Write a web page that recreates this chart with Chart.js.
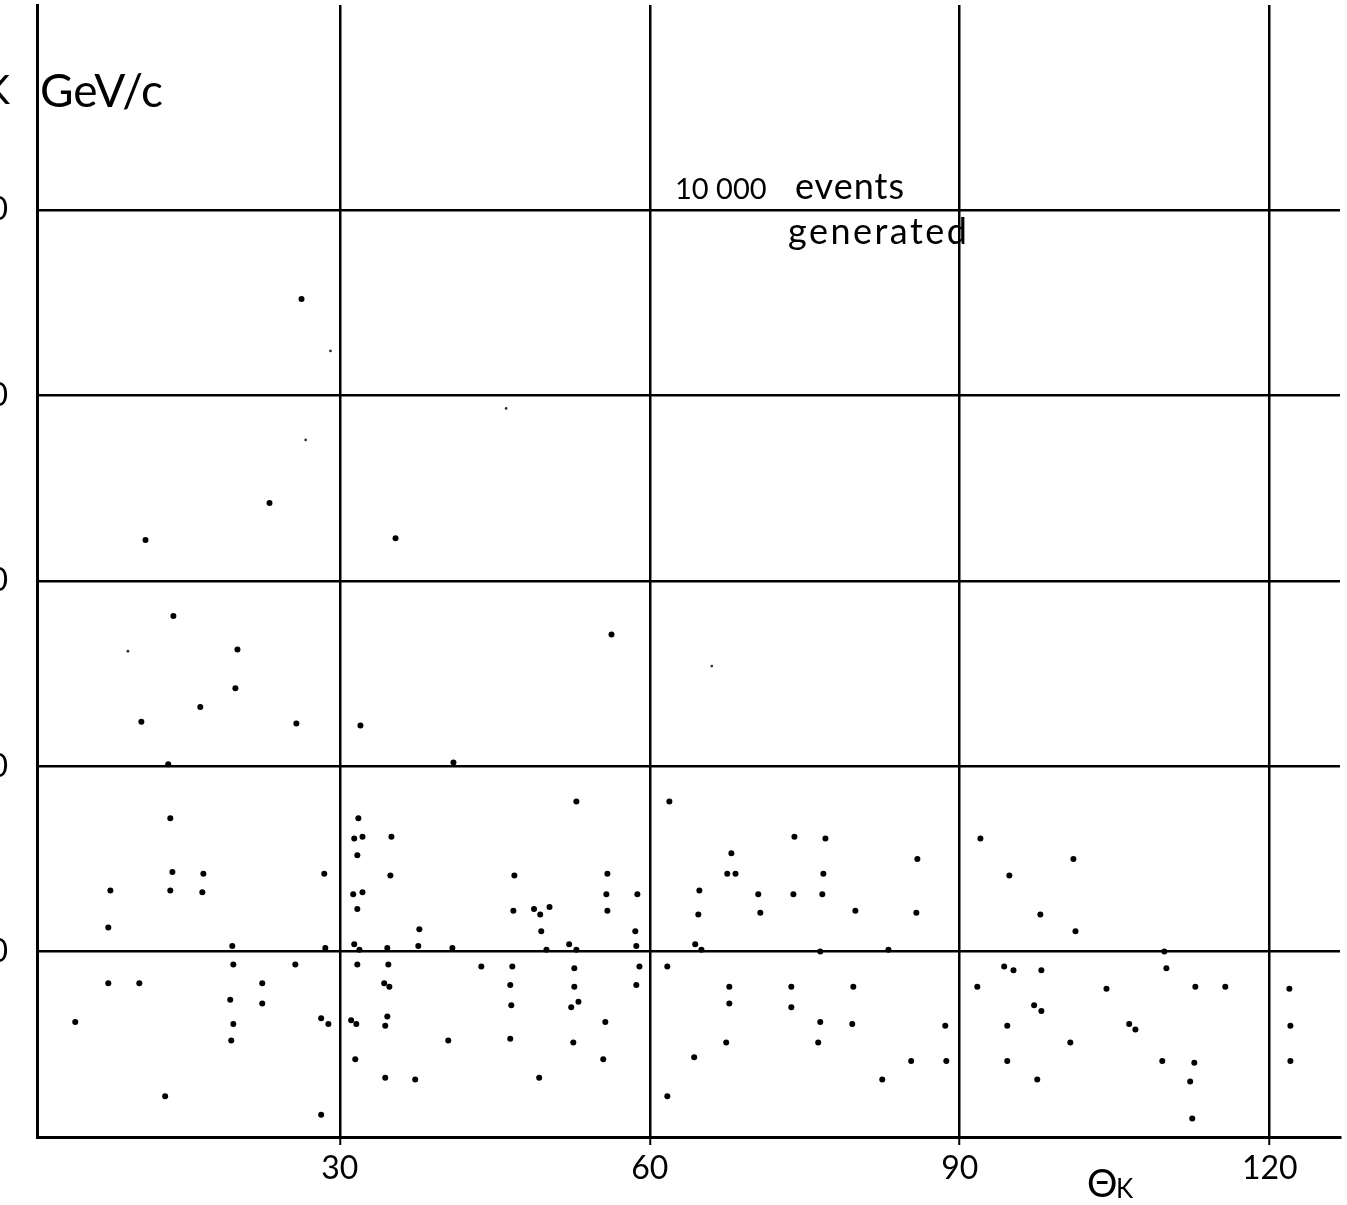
<!DOCTYPE html>
<html lang="en">
<head>
  <meta charset="UTF-8" />
  <title>Theta K vs pK scatter</title>
  <script src="https://cdn.jsdelivr.net/npm/chart.js"></script>
  <style>
    body { margin: 0; background: #fff; }
    #wrap { width: 1347px; height: 1205px; }
  </style>
</head>
<body>
  <div id="wrap"><canvas id="scatter"></canvas></div>

  <script>
    // kaon angle (degrees) and momentum (GeV/c)
    const thetaK = [
      23.2, 11.2, 35.4, 13.9, 20.1, 19.9, 16.5, 10.8, 25.8, 32.0, 13.4, 41.0, 26.3, 56.3,
      13.6, 31.8, 31.4, 32.2, 35.0, 31.7, 13.8, 16.8, 28.5, 34.9, 7.8, 13.6, 16.7, 31.3,
      32.2, 31.7, 7.6, 37.7, 19.6, 28.6, 31.4, 31.9, 34.6, 37.6, 40.9,
      19.7, 25.7, 31.7, 34.7, 7.6, 10.6, 22.5, 34.3, 34.8, 19.4, 22.5, 4.4, 19.7, 28.2,
      28.9, 31.1, 31.6, 34.6, 34.4, 19.5, 40.5, 31.5, 34.4, 37.3, 13.1, 28.2,
      52.9, 61.9, 74.0, 77.0, 67.9, 85.9, 46.9, 55.9, 67.5, 68.3, 76.8, 64.8, 55.8, 58.8,
      70.5, 73.9, 76.7, 46.8, 48.8, 49.4, 50.3, 55.9, 64.7, 70.7, 79.9, 85.8, 49.5, 58.6,
      52.2, 52.9, 50.0, 58.7, 64.4, 65.0, 76.5, 83.1,
      43.7, 46.7, 52.7, 59.0, 61.7, 46.5, 52.7, 58.7, 67.7, 73.7, 79.7, 46.6, 52.4, 53.1,
      67.7, 73.7, 55.7, 76.5, 79.6, 46.5, 52.6, 67.4, 76.3, 55.5, 64.3, 85.3, 49.3, 82.5, 61.7,
      92.0, 101.0, 94.8, 97.8, 101.2, 109.8,
      94.3, 95.2, 97.9, 110.0, 91.7, 104.2, 112.8, 115.7, 121.9, 97.2, 97.9, 88.6, 94.6,
      106.4, 107.0, 122.0, 100.7, 88.7, 94.6, 109.6, 112.7, 122.0, 97.5, 112.3, 112.5
    ];
    const pK = [
      3.42, 3.22, 3.23, 2.81, 2.63, 2.42, 2.32, 2.24, 2.23, 2.22, 2.01, 2.02, 4.52, 2.71,
      1.72, 1.72, 1.61, 1.62, 1.62, 1.52, 1.43, 1.42, 1.42, 1.41, 1.33, 1.33, 1.32, 1.31,
      1.32, 1.23, 1.13, 1.12, 1.03, 1.02, 1.04, 1.01, 1.02, 1.03, 1.02,
      0.93, 0.93, 0.93, 0.93, 0.83, 0.83, 0.83, 0.83, 0.81, 0.74, 0.72, 0.62, 0.61, 0.64,
      0.61, 0.63, 0.61, 0.65, 0.60, 0.52, 0.52, 0.42, 0.32, 0.31, 0.22, 0.12,
      1.81, 1.81, 1.62, 1.61, 1.53, 1.50, 1.41, 1.42, 1.42, 1.42, 1.42, 1.33, 1.31, 1.31,
      1.31, 1.31, 1.31, 1.22, 1.23, 1.20, 1.24, 1.22, 1.20, 1.21, 1.22, 1.21, 1.11, 1.11,
      1.04, 1.01, 1.01, 1.03, 1.04, 1.01, 1.00, 1.01,
      0.92, 0.92, 0.91, 0.92, 0.92, 0.82, 0.81, 0.82, 0.81, 0.81, 0.81, 0.71, 0.70, 0.73,
      0.72, 0.70, 0.62, 0.62, 0.61, 0.53, 0.51, 0.51, 0.51, 0.42, 0.43, 0.41, 0.32, 0.31, 0.22,
      1.61, 1.50, 1.41, 1.20, 1.11, 1.00,
      0.92, 0.90, 0.90, 0.91, 0.81, 0.80, 0.81, 0.81, 0.80, 0.71, 0.68, 0.60, 0.60,
      0.61, 0.58, 0.60, 0.51, 0.41, 0.41, 0.41, 0.40, 0.41, 0.31, 0.30, 0.10
    ];
    // small, faint marks
    const thetaFaint = [29.1, 26.7, 46.1, 66.0, 9.5];
    const pFaint = [4.24, 3.76, 3.93, 2.54, 2.62];

    const xTicks = [30, 60, 90, 120];
    const yTicks = [1, 2, 3, 4, 5];

    const FONT = 'Lato, "Open Sans", sans-serif';

    const labels = {
      id: 'labels',
      afterDraw(chart) {
        const c = chart.ctx;
        c.save();
        c.fillStyle = '#000';
        c.textBaseline = 'alphabetic';
        c.textAlign = 'right';
        c.font = '40px ' + FONT;
        c.fillText('K', 10, 104);
        c.textAlign = 'left';
        c.font = '46px ' + FONT;
        c.fillText('GeV/c', 40, 107);
        c.font = '29px ' + FONT;
        c.fillText('10 000', 675, 199);
        c.font = '36px ' + FONT;
        c.letterSpacing = '1px';
        c.fillText('events', 795, 199);
        c.letterSpacing = '2.5px';
        c.fillText('generated', 788, 244);
        c.letterSpacing = '0px';
        c.font = '38px ' + FONT;
        c.fillText('\u0398', 1087, 1197);
        c.font = '26px ' + FONT;
        c.fillText('K', 1116, 1198);
        c.restore();
      }
    };

    const toPoints = (xs, ys) => xs.map((x, i) => ({ x: x, y: ys[i] }));

    const noPad = s => { s.paddingTop = 0; s.paddingBottom = 0; s.paddingLeft = 0; s.paddingRight = 0; };

    new Chart(document.getElementById('scatter'), {
      type: 'scatter',
      data: {
        datasets: [
          { data: toPoints(thetaK, pK), backgroundColor: '#000', borderWidth: 0, pointRadius: 3 },
          { data: toPoints(thetaFaint, pFaint), backgroundColor: '#333', borderWidth: 0, pointRadius: 1.4 }
        ]
      },
      options: {
        responsive: true,
        maintainAspectRatio: false,
        animation: false,
        layout: { padding: { top: 5, right: 7, left: 0, bottom: 0 } },
        plugins: { legend: { display: false }, tooltip: { enabled: false } },
        scales: {
          x: {
            type: 'linear',
            min: 0.7,
            max: 126.8,
            afterBuildTicks: s => { s.ticks = xTicks.map(v => ({ value: v })); },
            afterFit: s => { s.height = 68; noPad(s); },
            grid: { color: '#000', lineWidth: 2.5, tickLength: 8, tickColor: '#000', tickWidth: 2 },
            border: { display: true, color: '#000', width: 3 },
            ticks: { color: '#000', padding: 4, font: { family: FONT, size: 32 } }
          },
          y: {
            type: 'linear',
            min: 0,
            max: 6.106,
            afterBuildTicks: s => { s.ticks = yTicks.map(v => ({ value: v })); },
            afterFit: s => { s.width = 37; noPad(s); },
            grid: { color: '#000', lineWidth: 2.5, drawTicks: false },
            border: { display: true, color: '#000', width: 3 },
            ticks: {
              color: '#000', padding: 29,
              font: { family: FONT, size: 32 },
              callback: v => v.toFixed(1)
            }
          }
        }
      },
      plugins: [labels]
    });
  </script>
</body>
</html>
